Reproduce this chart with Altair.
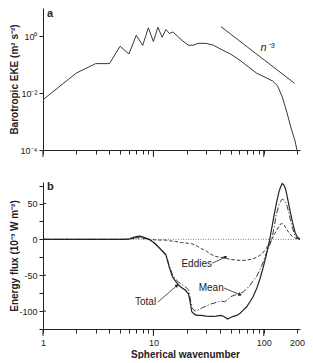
import altair as alt
import pandas as pd

# ---------------- data ----------------
# panel a: barotropic EKE spectrum
top_n = [1, 2, 3, 4, 5, 6, 7, 8, 9, 10, 11, 12, 13, 14, 15, 16.5, 18.2, 20.8, 23,
         25.5, 30, 35, 41, 50, 61, 72, 86, 105, 120, 133, 147, 162, 177, 192, 200]
top_eke = [0.0059, 0.051, 0.11, 0.11, 0.45, 0.24, 1.1, 0.48, 2.0, 0.66, 2.1, 0.93,
           1.75, 1.26, 1.43, 1.02, 0.72, 0.49, 0.49, 0.57, 0.57, 0.49, 0.35, 0.24,
           0.143, 0.086, 0.051, 0.035, 0.027, 0.0185, 0.0075, 0.0021, 0.00058,
           0.00021, 0.0001]
# n^-3 reference slope
ref_n = [41, 190]
ref_eke = [2.2, 0.0224]

# panel b: energy flux
flux_n = [1, 2, 3, 4, 5, 6, 6.5, 7, 7.5, 8, 9, 10, 11, 12, 13, 14, 15, 16, 17, 18,
          19.5, 20.8, 21.5, 22.3, 23.8, 25, 27.3, 30, 33.4, 37, 41, 44, 47, 50, 54,
          57, 61, 65, 70, 75, 80, 86, 92, 98, 105, 112, 118, 124, 130, 137, 142,
          147, 152, 157, 163, 168, 174, 182, 192, 200, 213]
total = [0, 0, 0, 0, 0, 0.5, 2.5, 4, 4.5, 3.5, 0.5, -4, -10, -16, -22, -40, -53,
         -59, -64, -67, -71, -76, -87, -101, -105, -106, -106, -107, -107.5, -107,
         -106, -108, -111, -109, -107, -106, -103, -99, -94, -87, -80, -69, -56,
         -41, -23, -4, 15, 33.5, 50, 66, 73, 78, 76, 71, 60, 50, 38, 24, 10, 4, 0]
eddies = [0, 0, 0, 0, 0, 0.3, 1.2, 2, 2, 1.5, 0, -0.5, -1, -1, -1, -2, -2.5, -3,
          -4, -4.5, -5, -5.5, -6, -6, -8, -9.5, -13, -16, -21, -24, -25, -26, -27,
          -28, -28.5, -29, -29.3, -29.3, -29, -28, -27, -25, -22.5, -19, -13, -5,
          0, 6, 12, 18, 21.5, 22, 20.5, 17, 13, 10, 7, 4, 2, 1, 0]
mean = [0, 0, 0, 0, 0, 0.3, 1.5, 2.5, 3, 2.5, 0.5, -3.5, -9, -15, -21, -38, -50.5,
        -56, -60, -62.5, -66, -70.5, -81, -95, -100, -99, -96, -93, -90, -88, -86,
        -87, -84, -80, -78, -77, -75, -73.5, -69, -64, -58, -52, -43, -33, -20,
        -10, 0, 16, 35, 47.5, 53, 56, 55, 52, 46, 38, 28, 16, 5, 2, 0]

# annotations (labels and arrows)
ann_text = ["Eddies", "Mean", "Total"]
ann_n = [24.7, 33.4, 8.5]
ann_v = [-34, -68, -88]
arr_n0 = [34.3, 43.7, 11.0]
arr_v0 = [-33.2, -67.9, -87.4]
arr_n1 = [45.2, 61.2, 16.4]
arr_v1 = [-24.6, -77.2, -64.2]
arr_angle = [66, 112, 50]

tick_vals = [1, 2, 3, 4, 5, 6, 7, 8, 9, 10, 20, 30, 40, 50, 60, 70, 80, 90, 100, 200]
major_vals = [1, 10, 100]

# ---------------- style ----------------
INK = "#222222"
FONT = "Liberation Sans"
W = 257
H_TOP = 142
H_BOT = 147

x_scale = alt.Scale(type="log", domain=[1, 213], nice=False)

x_axis_top = alt.Axis(values=tick_vals, labels=False, title=None, tickSize=4,
                      grid=False)
x_axis_bot = alt.Axis(values=tick_vals, title="Spherical wavenumber", tickSize=4,
                      grid=False, labelFlush=False, labelOverlap=False,
                      labelExpr="indexof([1,10,100,200], datum.value) >= 0 ? '' + datum.value : ''",
                      labelPadding=5, titleX=142, titlePadding=2)

x_top = alt.X("n:Q", scale=x_scale, axis=x_axis_top)
x_bot = alt.X("n:Q", scale=x_scale, axis=x_axis_bot)

y_top_axis = alt.Axis(values=[1e-4, 1e-2, 1], grid=False, tickSize=4,
                      labelExpr="datum.value >= 0.5 ? '10⁰' : (datum.value > 0.001 ? '10⁻²' : '10⁻⁴')",
                      title="Barotropic EKE (m² s⁻²)", titleX=-24)
y_bot_axis = alt.Axis(values=[-125, -100, -75, -50, -25, 0, 25, 50, 75],
                      grid=False, tickSize=4,
                      labelExpr="(datum.value == 50 || datum.value == 0) ? '' + datum.value : ((datum.value == -50 || datum.value == -100) ? '-' + abs(datum.value) : '')",
                      title="Energy flux (10⁻³ W m⁻²)", titleX=-24)
y_top = alt.Y("v:Q", scale=alt.Scale(type="log", domain=[1e-4, 10], nice=False),
              axis=y_top_axis)
y_bot = alt.Y("v:Q", scale=alt.Scale(domain=[-125, 80], nice=False, zero=False),
              axis=y_bot_axis)

# ---------------- panel a ----------------
df_top = pd.DataFrame({"n": top_n, "v": top_eke})
df_ref = pd.DataFrame({"n": ref_n, "v": ref_eke})
df_major = pd.DataFrame({"n": major_vals})

line_top = alt.Chart(df_top).mark_line(color=INK, strokeWidth=0.9).encode(x=x_top, y=y_top)
line_ref = alt.Chart(df_ref).mark_line(color=INK, strokeWidth=0.9).encode(x=x_top, y=y_top)
txt_n3 = alt.Chart(pd.DataFrame({"n": [108], "v": [0.4], "t": ["n⁻³"]})).mark_text(
    font=FONT, fontSize=11, fontStyle="italic", color=INK
).encode(x=x_top, y=y_top, text="t:N")
major_top = alt.Chart(df_major).mark_rule(color=INK, strokeWidth=1).encode(
    x=x_top, y=alt.value(H_TOP), y2=alt.value(H_TOP + 7))
lab_a = alt.Chart(pd.DataFrame({"t": ["a"]})).mark_text(
    font=FONT, fontSize=11, fontWeight="bold", color=INK, align="left", baseline="middle"
).encode(x=alt.value(4), y=alt.value(6), text="t:N")

top = alt.layer(line_top, line_ref, txt_n3, major_top, lab_a).properties(width=W, height=H_TOP)

# ---------------- panel b ----------------
df_b = pd.DataFrame({"n": flux_n, "total": total, "eddies": eddies, "mean": mean})
df_zero = pd.DataFrame({"n": [1, 213], "v": [0, 0]})

zero = alt.Chart(df_zero).mark_line(color="#777777", strokeWidth=0.9,
                                    strokeDash=[1, 1.5]).encode(x=x_bot, y=y_bot)
l_total = alt.Chart(df_b).transform_calculate(v="datum.total").mark_line(
    color=INK, strokeWidth=1.2).encode(x=x_bot, y=y_bot)
l_eddies = alt.Chart(df_b).transform_calculate(v="datum.eddies").mark_line(
    color=INK, strokeWidth=0.9, strokeDash=[3.5, 2]).encode(x=x_bot, y=y_bot)
l_mean = alt.Chart(df_b).transform_calculate(v="datum.mean").mark_line(
    color=INK, strokeWidth=0.9, strokeDash=[6, 2, 1.2, 2]).encode(x=x_bot, y=y_bot)

df_ann = pd.DataFrame({"n": ann_n, "v": ann_v, "t": ann_text})
df_arr = pd.DataFrame({"n": arr_n0, "v": arr_v0, "n1": arr_n1, "v1": arr_v1})
df_heads = pd.DataFrame({"n": arr_n1, "v": arr_v1, "ang": arr_angle})
ann = alt.Chart(df_ann).mark_text(font=FONT, fontSize=10, color=INK).encode(
    x=x_bot, y=y_bot, text="t:N")
arr = alt.Chart(df_arr).mark_rule(color=INK, strokeWidth=0.8).encode(
    x=x_bot, y=y_bot, x2="n1:Q", y2="v1:Q")
heads = alt.Chart(df_heads).mark_point(shape="triangle-up", filled=True, size=16,
                                       color=INK, opacity=1).encode(
    x=x_bot, y=y_bot, angle=alt.Angle("ang:Q", scale=None))
major_bot = alt.Chart(df_major).mark_rule(color=INK, strokeWidth=1).encode(
    x=x_bot, y=alt.value(H_BOT), y2=alt.value(H_BOT + 7))
df_in = pd.DataFrame({"v": [50, 0, -50, -100]})
inward = alt.Chart(df_in).mark_rule(color=INK, strokeWidth=1).encode(
    y=y_bot, x=alt.value(0), x2=alt.value(3))
lab_b = alt.Chart(pd.DataFrame({"t": ["b"]})).mark_text(
    font=FONT, fontSize=11, fontWeight="bold", color=INK, align="left", baseline="middle"
).encode(x=alt.value(4), y=alt.value(5), text="t:N")

bottom = alt.layer(zero, l_eddies, l_mean, l_total, arr, heads, ann, major_bot,
                   inward, lab_b).properties(width=W, height=H_BOT)

chart = alt.vconcat(top, bottom, spacing=23).properties(
    padding={"left": 0, "top": 0, "right": 0, "bottom": 0}
).configure_view(stroke=None).configure_axis(
    domainColor=INK, tickColor=INK, labelColor=INK, titleColor=INK,
    labelFont=FONT, titleFont=FONT, labelFontSize=9, titleFontSize=10,
    titleFontWeight="bold", domainWidth=1, tickWidth=1, labelPadding=2
)

chart.save("out.html", embed_options={"renderer": "svg", "actions": False})
